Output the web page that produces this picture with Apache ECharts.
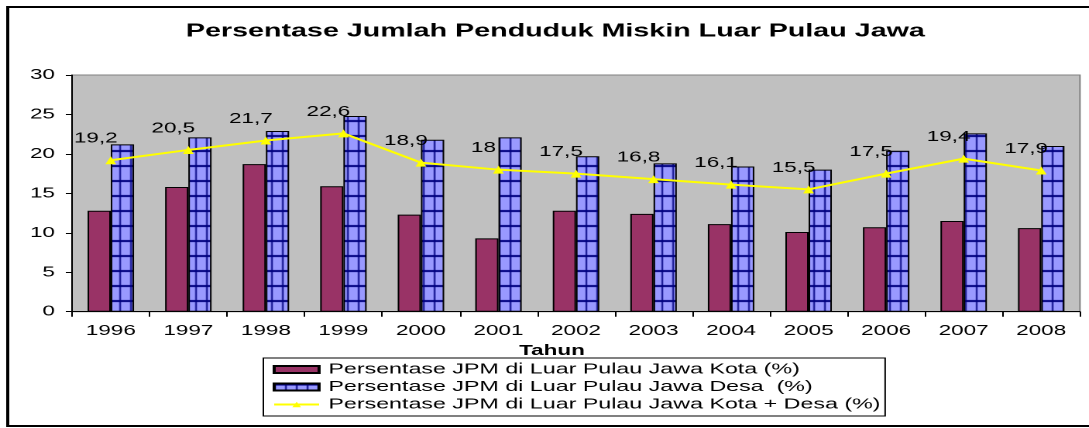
<!DOCTYPE html>
<html>
<head>
<meta charset="utf-8">
<script src="https://cdn.jsdelivr.net/npm/echarts@6/dist/echarts.min.js"></script>
<style>
    html, body { margin: 0; padding: 0; background: #fff; overflow: hidden; }
    /* the reference picture is stretched sideways, so the chart is drawn narrow and widened */
    #chart { width: 703px; height: 428px; transform: scaleX(1.549); transform-origin: 0 0; }
</style>
</head>
<body>
<div id="chart"></div>
<script>
var years = ['1996', '1997', '1998', '1999', '2000', '2001', '2002', '2003', '2004', '2005', '2006', '2007', '2008'];
var kota = [12.8, 15.8, 18.7, 15.9, 12.3, 9.3, 12.8, 12.4, 11.1, 10.1, 10.7, 11.5, 10.6];
var desa = [21.2, 22.1, 22.9, 24.8, 21.8, 22.1, 19.7, 18.8, 18.4, 18.0, 20.4, 22.6, 21.0];
var kotaDesa = [19.2, 20.5, 21.7, 22.6, 18.9, 18, 17.5, 16.8, 16.1, 15.5, 17.5, 19.4, 17.9];

var names = [
    'Persentase JPM di Luar Pulau Jawa Kota (%)',
    'Persentase JPM di Luar Pulau Jawa Desa  (%)',
    'Persentase JPM di Luar Pulau Jawa Kota + Desa (%)'
];

var font = "'Liberation Sans', Arial, sans-serif";

// checkered fill for the Desa bars
var tile = document.createElement('canvas');
tile.width = 7;
tile.height = 15;
var ctx = tile.getContext('2d');
ctx.fillStyle = '#9999FF';
ctx.fillRect(0, 0, 7, 15);
ctx.fillStyle = '#000080';
ctx.fillRect(0, 0, 7, 2);
ctx.fillRect(0, 0, 1, 15);

var chart = echarts.init(document.getElementById('chart'), null, { devicePixelRatio: 2 });

var option = {
    animation: false,
    textStyle: { fontFamily: font },
    title: {
        text: 'Persentase Jumlah Penduduk Miskin Luar Pulau Jawa',
        left: 115,
        top: 17,
        padding: 5,
        textStyle: { fontFamily: font, fontSize: 18.5, fontWeight: 'bold', color: '#000' }
    },
    legend: {
        orient: 'vertical',
        left: 170,
        top: 358,
        padding: [4, 3, 4, 6],
        borderColor: '#000',
        borderWidth: 1,
        itemWidth: 29,
        itemHeight: 7,
        itemGap: 2.5,
        textStyle: { fontFamily: font, fontSize: 15, color: '#000', padding: [0, 0, 0, 1] },
        data: [
            { name: names[0], icon: 'rect' },
            { name: names[1], icon: 'rect' },
            { name: names[2] }
        ]
    },
    grid: {
        left: 46.5,
        right: 5.8,
        top: 75,
        bottom: 116.3,
        show: true,
        backgroundColor: '#C0C0C0',
        borderColor: '#808080',
        borderWidth: 1
    },
    xAxis: {
        type: 'category',
        data: years,
        boundaryGap: true,
        name: 'Tahun',
        nameLocation: 'middle',
        nameGap: 30,
        nameTextStyle: { fontFamily: font, fontSize: 14.5, fontWeight: 'bold', color: '#000', padding: [0, 31, 0, 0] },
        axisLine: { lineStyle: { color: '#000', width: 1 } },
        axisTick: { show: true, alignWithLabel: false, length: 5, lineStyle: { color: '#000' } },
        axisLabel: { margin: 12, fontSize: 14.5, color: '#000', fontFamily: font },
        splitLine: { show: false }
    },
    yAxis: {
        type: 'value',
        min: 0,
        max: 30,
        interval: 5,
        axisLine: { show: true, lineStyle: { color: '#000', width: 1 } },
        axisTick: { show: true, length: 4, lineStyle: { color: '#000' } },
        axisLabel: { margin: 11, fontSize: 14.5, color: '#000', fontFamily: font },
        splitLine: { show: false }
    },
    graphic: [{
        type: 'rect',
        shape: { x: 5, y: 7, width: 720, height: 419 },
        style: { fill: null, stroke: '#000', lineWidth: 2 },
        z: 100
    }],
    series: [{
        name: names[0],
        type: 'bar',
        barWidth: 15,
        barGap: '0%',
        itemStyle: { color: '#993366', borderColor: '#000', borderWidth: 1 },
        data: kota
    }, {
        name: names[1],
        type: 'bar',
        barWidth: 15,
        barGap: '0%',
        itemStyle: {
            color: { image: tile, repeat: 'repeat' },
            borderColor: '#000',
            borderWidth: 1
        },
        data: desa
    }, {
        name: names[2],
        type: 'line',
        symbol: 'triangle',
        symbolSize: [7, 8],
        z: 5,
        lineStyle: { color: '#FFFF00', width: 2 },
        itemStyle: { color: '#FFFF00' },
        label: {
            show: true,
            position: 'top',
            distance: 5,
            offset: [-9.7, -5],
            fontFamily: font,
            fontSize: 14.5,
            color: '#000',
            formatter: function (p) {
                return String(p.value).replace('.', ',');
            }
        },
        data: kotaDesa
    }]
};

chart.setOption(option);
</script>
</body>
</html>
